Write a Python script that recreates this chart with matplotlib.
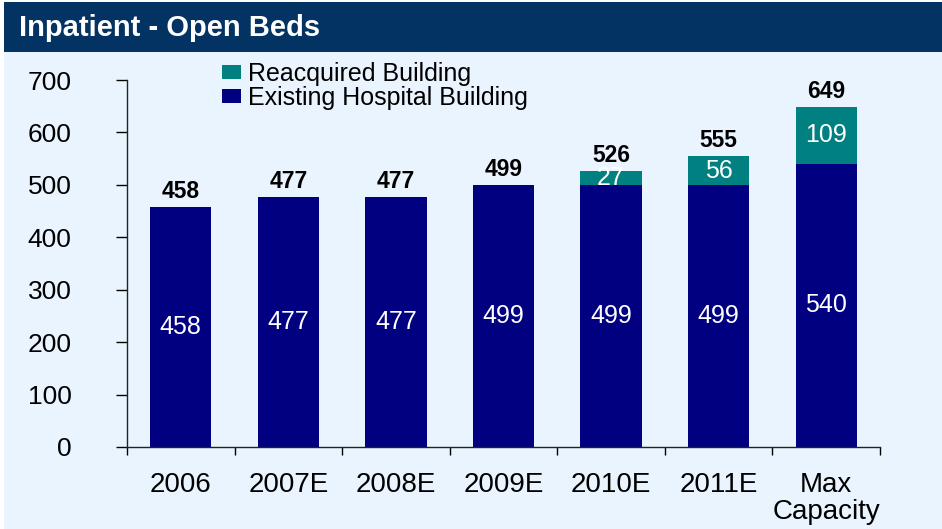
import matplotlib
matplotlib.use("Agg")
import matplotlib.pyplot as plt
from matplotlib.patches import Rectangle
import numpy as np

plt.rcParams['font.family'] = ['Liberation Sans', 'DejaVu Sans']

categories = ["2006", "2007E", "2008E", "2009E", "2010E", "2011E", "Max\nCapacity"]
existing = [458, 477, 477, 499, 499, 499, 540]
reacquired = [0, 0, 0, 0, 27, 56, 109]
totals = [458, 477, 477, 499, 526, 555, 649]
yticks = [0, 100, 200, 300, 400, 500, 600, 700]

navy = "#000080"
teal = "#008080"
bg = "#EAF4FE"
title_bg = "#023363"

W, H = 942, 529
fig = plt.figure(figsize=(W / 100, H / 100), dpi=100)
fig.patch.set_facecolor("white")

# background panel
fig.add_artist(Rectangle((4 / W, 0), (W - 4) / W, 1 - 2 / H, transform=fig.transFigure,
                         facecolor=bg, edgecolor="none", zorder=0))
# title bar
fig.add_artist(Rectangle((4 / W, 1 - 52 / H), (W - 4) / W, 50 / H, transform=fig.transFigure,
                         facecolor=title_bg, edgecolor="none", zorder=1))
fig.text(19 / W, 1 - 28 / H, "Inpatient - Open Beds", color="white", fontsize=21,
         fontweight="bold", va="center", ha="left")

left, right = 127 / W, 880 / W
bottom, top = 1 - 447 / H, 1 - 80 / H
ax = fig.add_axes([left, bottom, right - left, top - bottom])
ax.set_facecolor("none")

x = np.arange(len(categories))
width = 0.57
ax.bar(x, existing, width, color=navy, label="Existing Hospital Building", zorder=2)
ax.bar(x, reacquired, width, bottom=existing, color=teal, label="Reacquired Building", zorder=2)

for i in range(len(categories)):
    ax.text(x[i], existing[i] / 2, str(existing[i]), color="white", fontsize=18,
            ha="center", va="center")
    if reacquired[i] > 0:
        ax.text(x[i], existing[i] + reacquired[i] / 2, str(reacquired[i]), color="white",
                fontsize=18, ha="center", va="center")
    ax.text(x[i], totals[i] + 8, str(totals[i]), color="black", fontsize=16.5,
            fontweight="bold", ha="center", va="bottom")

ax.set_xlim(-0.5, len(categories) - 0.5)
ax.set_ylim(0, 700)
ax.set_yticks(yticks)
ax.set_yticklabels([str(v) for v in yticks], fontsize=19)
ax.set_xticks(x)
ax.set_xticklabels(categories, fontsize=20, linespacing=1.05, va="top")
ax.set_xticks(np.arange(len(categories) + 1) - 0.5, minor=True)
ax.tick_params(axis="x", which="major", length=0, pad=18)
ax.tick_params(axis="x", which="minor", length=6, direction="out", width=1)
ax.tick_params(axis="y", length=8, direction="out", width=1, pad=32)
for s in ["top", "right"]:
    ax.spines[s].set_visible(False)
for s in ["left", "bottom"]:
    ax.spines[s].set_linewidth(1)
    ax.spines[s].set_color("#222222")

handles, labels = ax.get_legend_handles_labels()
leg = fig.legend(handles[::-1], labels[::-1], loc="upper left",
                 bbox_to_anchor=(222 / W, 1 - 62 / H), frameon=False, fontsize=18,
                 handlelength=0.75, handleheight=0.45, handletextpad=0.3,
                 labelspacing=0.0, borderaxespad=0, borderpad=0)

fig.savefig("out.png", dpi=100, facecolor=fig.get_facecolor())
